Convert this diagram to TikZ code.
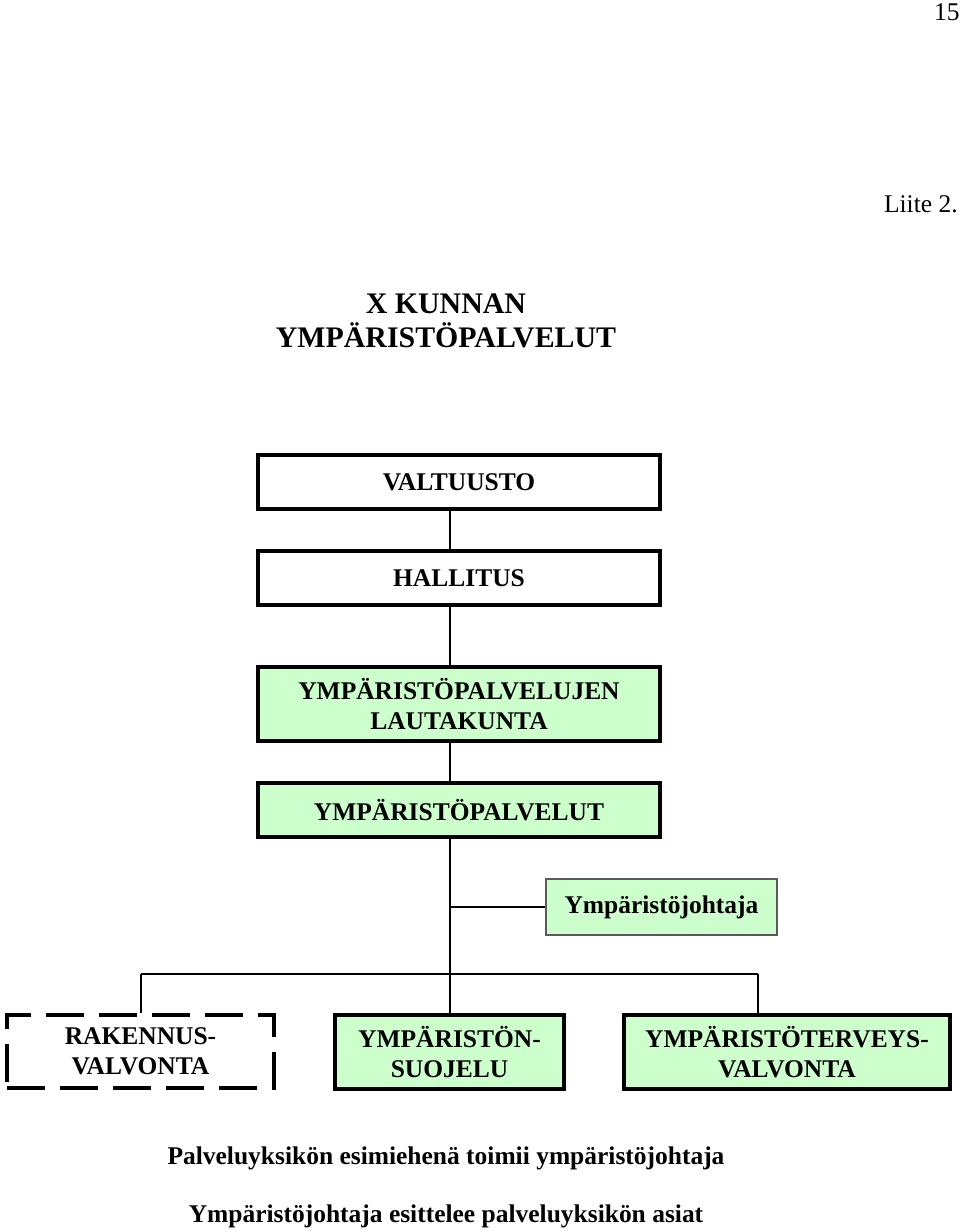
\documentclass[tikz,border=0pt]{standalone}
\usepackage{fontspec}
\setmainfont{Liberation Serif}
\usepackage{tikz}
\definecolor{UnitGreen}{HTML}{CCFFCC}
\definecolor{ThinEdge}{HTML}{5A5A5A}
\newcommand{\boxfont}{\fontsize{14.5}{17}\selectfont\bfseries}
\newcommand{\titlefont}{\fontsize{17}{19.3}\selectfont\bfseries}
\tikzset{
  orgbox/.style={draw=black, line width=2.2pt, fill=white, align=center,
                 inner sep=2pt, font=\boxfont},
  greenbox/.style={orgbox, fill=UnitGreen},
  dashbox/.style={orgbox, dash pattern=on 0.76cm off 0.3cm},
  thinbox/.style={draw=ThinEdge, line width=0.6pt, fill=UnitGreen, align=center,
                 inner sep=2pt, font=\boxfont},
  orgline/.style={line width=0.85pt, black},
  plaintext/.style={inner sep=0pt, font=\fontsize{14.5}{17}\selectfont}
}

\begin{document}
\begin{tikzpicture}[x=0.02cm, y=-0.02cm]
\useasboundingbox (0,0) rectangle (960,1232);

% page marks
\node[plaintext, anchor=east] (pagenum) at (960,12) {15};
\node[plaintext, anchor=east] (liite) at (958,204) {Liite 2.};

% title
\node[align=center, inner sep=0pt, font=\titlefont] (title) at (446,321) {X KUNNAN\\YMPÄRISTÖPALVELUT};

% main column
\node[orgbox, minimum width=8.04cm, minimum height=1.08cm] (valtuusto) at (459,482) {VALTUUSTO};
\node[orgbox, minimum width=8.04cm, minimum height=1.08cm] (hallitus) at (459,578) {HALLITUS};
\node[greenbox, minimum width=8.04cm, minimum height=1.48cm] (lautakunta) at (459,704) {YMPÄRISTÖPALVELUJEN\\LAUTAKUNTA};
\node[greenbox, minimum width=8.04cm, minimum height=1.08cm] (palvelut) at (459,810) {YMPÄRISTÖPALVELUT};
\node[thinbox, minimum width=4.62cm, minimum height=1.12cm] (johtaja) at (661.5,907) {Ympäristöjohtaja};

% units
\node[dashbox, minimum width=5.34cm, minimum height=1.46cm] (rakennus) at (140.5,1051.5) {RAKENNUS-\\VALVONTA};
\node[greenbox, minimum width=4.58cm, minimum height=1.48cm] (suojelu) at (449.5,1052) {YMPÄRISTÖN-\\SUOJELU};
\node[greenbox, minimum width=6.52cm, minimum height=1.48cm] (terveys) at (787,1052) {YMPÄRISTÖTERVEYS-\\VALVONTA};

% connectors
\coordinate (trunk) at (450,974);
\coordinate (busL) at (141,974);
\coordinate (busR) at (758,974);
\draw[orgline] (trunk |- valtuusto.south) -- (trunk |- hallitus.north);
\draw[orgline] (trunk |- hallitus.south) -- (trunk |- lautakunta.north);
\draw[orgline] (trunk |- lautakunta.south) -- (trunk |- palvelut.north);
\draw[orgline] (trunk |- palvelut.south) -- (trunk |- suojelu.north);
\draw[orgline] (trunk |- johtaja.west) -- (johtaja.west);
\draw[orgline] (busL) -- (busR);
\draw[orgline] (busL) -- (busL |- rakennus.north);
\draw[orgline] (busR) -- (busR |- terveys.north);

% notes
\node[plaintext, font=\boxfont] (note1) at (446,1158) {Palveluyksikön esimiehenä toimii ympäristöjohtaja};
\node[plaintext, font=\boxfont] (note2) at (446,1216) {Ympäristöjohtaja esittelee palveluyksikön asiat};
\end{tikzpicture}
\end{document}
